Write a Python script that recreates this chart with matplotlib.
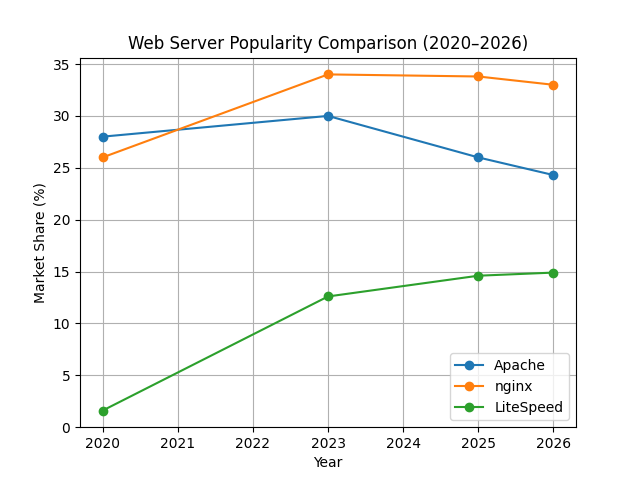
import matplotlib
matplotlib.use("Agg")
import matplotlib.pyplot as plt

# data
years = [2020, 2023, 2025, 2026]
apache = [28.0, 30.0, 26.0, 24.3]
nginx = [26.0, 34.0, 33.8, 33.0]
litespeed = [1.6, 12.6, 14.6, 14.9]

fig, ax = plt.subplots(figsize=(6.4, 4.8), dpi=100)

ax.plot(years, apache, marker="o", label="Apache")
ax.plot(years, nginx, marker="o", label="nginx")
ax.plot(years, litespeed, marker="o", label="LiteSpeed")

ax.set_title("Web Server Popularity Comparison (2020\u20132026)")
ax.set_xlabel("Year")
ax.set_ylabel("Market Share (%)")
ax.set_ylim(bottom=0)
ax.set_xticks(range(2020, 2027))
ax.grid(True)
ax.legend(loc="lower right")

fig.savefig("out.png")
